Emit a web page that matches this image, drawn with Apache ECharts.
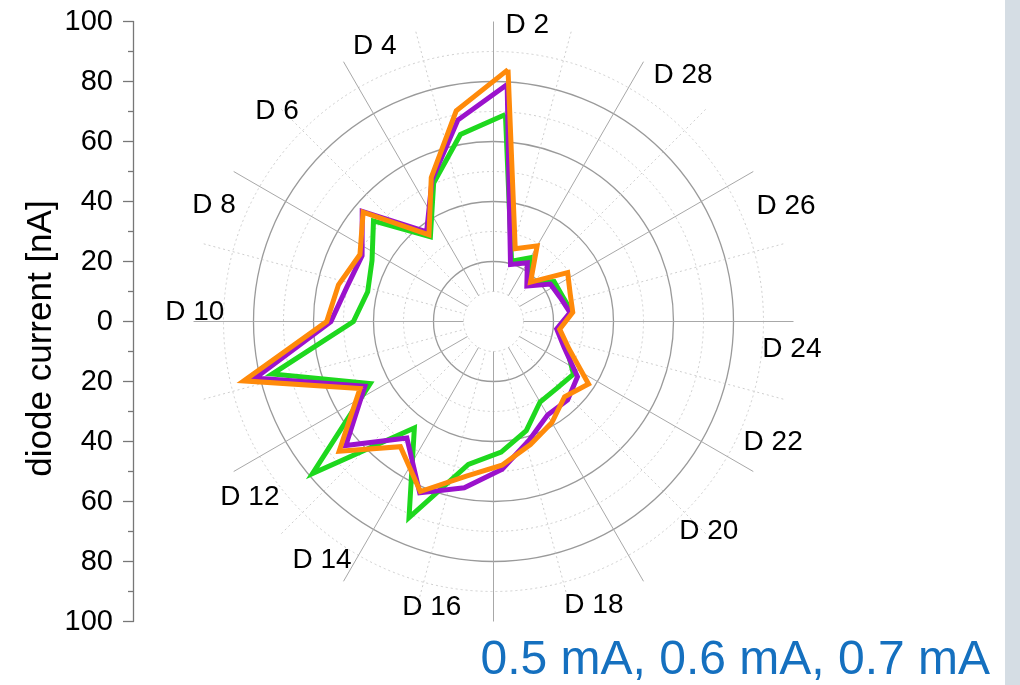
<!DOCTYPE html>
<html><head><meta charset="utf-8">
<script src="https://cdn.jsdelivr.net/npm/echarts@6/dist/echarts.min.js"></script>
<style>html,body{margin:0;padding:0;background:#fff}#c{width:1020px;height:685px}</style>
</head><body><div id="c"></div>
<script>
// ---- data ----
const DIODES = ['D 2','D 3','D 4','D 5','D 6','D 7','D 8','D 9','D 10','D 11','D 12','D 13','D 14','D 15',
  'D 16','D 17','D 18','D 19','D 20','D 21','D 22','D 23','D 24','D 25','D 26','D 27','D 28'];
const CURRENT_05 = [69.1,63.3,50.3,35.2,52.2,45.3,43.1,46.7,75.8,46.0,78.8,44.2,71.2,48.4,
  43.6,38.0,31.0,30.7,31.9,26.0,21.5,26.3,24.5,24.2,17.7,24.5,21.0];
const CURRENT_06 = [79.1,68.2,51.6,37.3,57.1,49.0,50.2,54.2,81.6,48.0,64.3,48.4,62.2,56.3,
  49.3,41.3,36.0,36.0,33.5,25.0,21.2,25.7,23.6,22.7,16.2,22.6,19.8];
const CURRENT_07 = [84.1,71.3,52.3,36.0,56.7,49.8,53.1,55.6,85.6,49.8,67.2,52.0,61.7,52.3,
  48.0,42.8,38.9,34.5,37.9,26.8,22.2,26.6,27.2,29.6,18.0,29.1,25.3];
const SERIES_NAMES = ['0.5 mA','0.6 mA','0.7 mA'];
const DIODE_LABELS = ['D 2','D 4','D 6','D 8','D 10','D 12','D 14','D 16','D 18','D 20','D 22','D 24','D 26','D 28'];
const RADIAL_TICKS = [-100,-80,-60,-40,-20,0,20,40,60,80,100];
const AXIS_TITLE = 'diode current [nA]';

// ---- layout (hand-placed label spots, angle clockwise from top, radius in nA units) ----
const LABEL_ANGLE = [6.5,336.7,314.2,292.5,271.8,234.2,215.7,192.2,160.5,134.3,113.3,95.3,68.5,37.6];
const LABEL_R = [99.5,100,100.7,100.8,99.6,100.1,97.9,97.3,100.3,100.3,101.5,99.9,104.8,103.5];

const FONT = '"Liberation Sans", Arial, sans-serif';
const CX = 493.5, CY = 321.5;
const G = '#9a9a9a', L = '#cfcfcf', T = 'rgba(0,0,0,0)';

const chart = echarts.init(document.getElementById('c'), null, {renderer: 'canvas'});

function loop(vals) {
  const d = vals.map((v, i) => [v, i]);
  d.push([vals[0], vals.length]);
  return d;
}
const hidden = {axisLine: {show: false}, axisTick: {show: false}, axisLabel: {show: false}};
const hiddenRadius = (idx, split, max) => Object.assign({
  polarIndex: idx, type: 'value', min: 10, max: max || 100, interval: 10,
  splitLine: split || {show: false}
}, hidden);

const option = {
  animation: false,
  backgroundColor: '#fff',
  polar: [
    {center: [CX, CY], radius: [30, 300]},
    {center: [CX, CY], radius: [30, 300]},
    {center: [CX, CY], radius: [30, 300]},
    {center: [CX, CY], radius: [30, 330]}
  ],
  radiusAxis: [
    hiddenRadius(0, {show: true, lineStyle: {color: [T, G, T, G, T, G, T, G, T, T], width: 1.3}}),
    hiddenRadius(1, {show: true, lineStyle: {color: [L, T, L, T, L, T, L, T, L, T], width: 1, type: [2, 3]}}),
    hiddenRadius(2),
    hiddenRadius(3, null, 110)
  ],
  angleAxis: [
    Object.assign({polarIndex: 0, type: 'value', min: 0, max: 360, interval: 30, startAngle: 90,
     splitLine: {show: true, lineStyle: {color: '#a8a8a8', width: 1}}}, hidden),
    Object.assign({polarIndex: 1, type: 'value', min: 0, max: 360, interval: 30, startAngle: 105,
     splitLine: {show: true, lineStyle: {color: L, width: 1, type: [2, 3]}}}, hidden),
    Object.assign({polarIndex: 2, type: 'value', min: 0, max: DIODES.length, startAngle: 86.7, clockwise: false,
     splitLine: {show: false}}, hidden),
    Object.assign({polarIndex: 3, type: 'value', min: 0, max: 360, startAngle: 90,
     splitLine: {show: false}}, hidden)
  ],
  grid: {left: 133, top: CY - 300, height: 600, width: 10},
  xAxis: {type: 'value', show: false},
  yAxis: {
    type: 'value', min: RADIAL_TICKS[0], max: RADIAL_TICKS[RADIAL_TICKS.length - 1], interval: 20,
    name: AXIS_TITLE, nameLocation: 'middle', nameGap: 74,
    nameTextStyle: {fontSize: 35, fontFamily: FONT, color: '#000', padding: [0, 34, 0, 0]},
    axisLine: {show: true, lineStyle: {color: '#777', width: 1.3}},
    axisTick: {show: true, length: 10, lineStyle: {color: '#777', width: 1.3}},
    minorTick: {show: true, splitNumber: 2, length: 5, lineStyle: {color: '#777', width: 1.3}},
    splitLine: {show: false},
    axisLabel: {fontSize: 29, fontFamily: FONT, color: '#000', margin: 20, formatter: v => String(Math.abs(v))}
  },
  series: [
    {name: SERIES_NAMES[0], type: 'line', coordinateSystem: 'polar', polarIndex: 2, data: loop(CURRENT_05),
     symbol: 'none', lineStyle: {color: '#1ed81e', width: 5, join: 'miter'}, z: 3},
    {name: SERIES_NAMES[1], type: 'line', coordinateSystem: 'polar', polarIndex: 2, data: loop(CURRENT_06),
     symbol: 'none', lineStyle: {color: '#9b12cc', width: 5, join: 'miter'}, z: 4},
    {name: SERIES_NAMES[2], type: 'line', coordinateSystem: 'polar', polarIndex: 2, data: loop(CURRENT_07),
     symbol: 'none', lineStyle: {color: '#ff8a0a', width: 5, join: 'miter'}, z: 5},
    {type: 'scatter', coordinateSystem: 'polar', polarIndex: 3, symbolSize: 1, silent: true,
     itemStyle: {color: T},
     data: DIODE_LABELS.map((n, i) => ({name: n, value: [LABEL_R[i], LABEL_ANGLE[i]]})),
     labelLayout: {hideOverlap: false},
     label: {show: true, position: 'inside', formatter: p => p.name, fontSize: 28, fontFamily: FONT,
       color: '#000', opacity: 1, textBorderWidth: 0},
     z: 6}
  ],
  graphic: [
    {type: 'rect', left: 1005, top: 0, shape: {width: 15, height: 685}, style: {fill: '#d5dde4'}, silent: true},
    {type: 'text', right: 30, top: 637, style: {text: SERIES_NAMES.join(', '), fontSize: 48, fontFamily: FONT, fill: '#1570bf'}}
  ]
};
chart.setOption(option);
</script></body></html>
